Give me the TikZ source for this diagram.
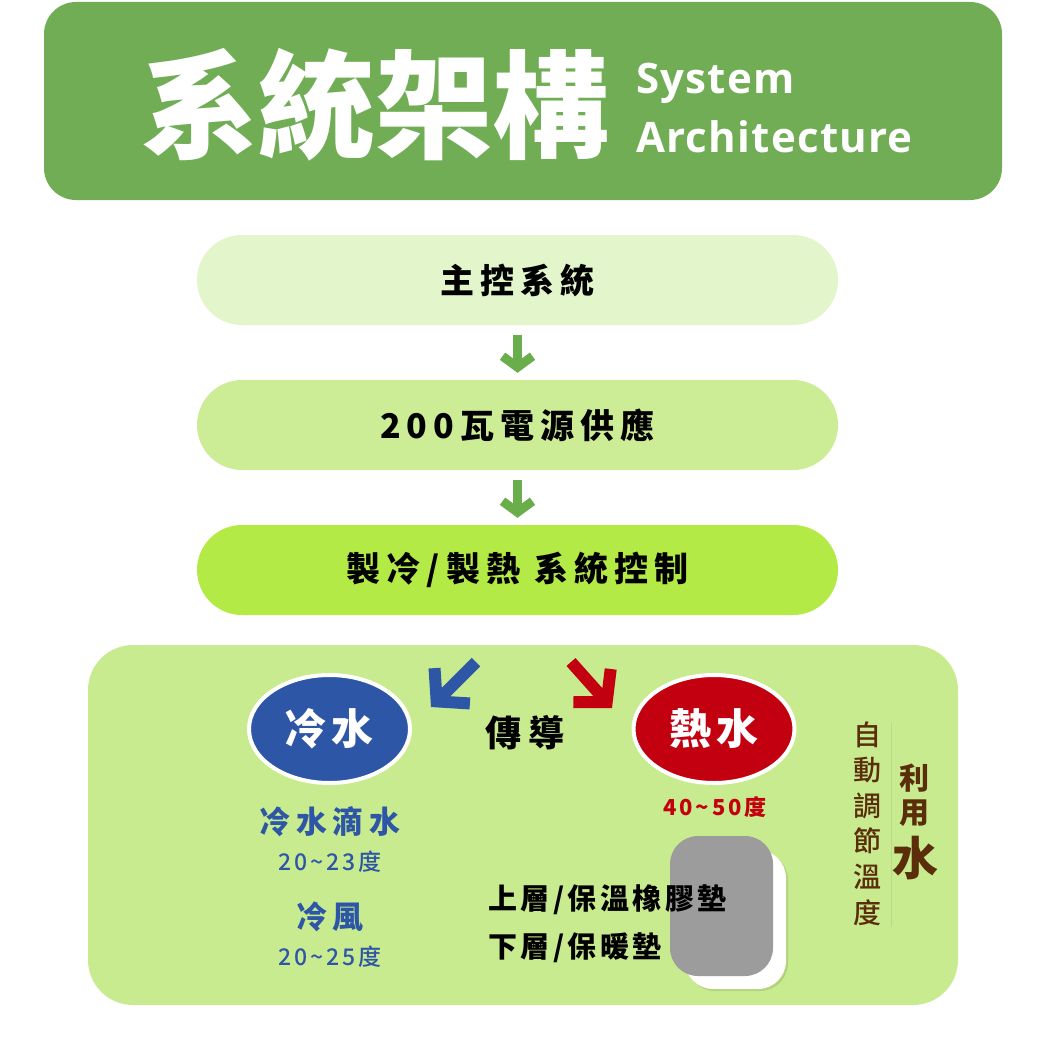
\documentclass[tikz,border=0pt]{standalone}
\usepackage{fontspec}
\setmainfont{Noto Sans CJK TC}
\newfontfamily\cjk{Noto Sans CJK TC}
\newfontfamily\cjkmed{Noto Sans CJK TC Medium}
\newfontfamily\cjkmedls[LetterSpace=12]{Noto Sans CJK TC Medium}
\newfontfamily\cjkblack{Noto Sans CJK TC Black}
\newfontfamily\cjkwide[LetterSpace=18]{Noto Sans CJK TC}
\newfontfamily\cjkmid[LetterSpace=12]{Noto Sans CJK TC}
\newfontfamily\latinf[LetterSpace=3]{Open Sans}
\usetikzlibrary{arrows.meta,calc,shapes.geometric}
\definecolor{titlegreen}{HTML}{70AD54}
\definecolor{boxA}{HTML}{E3F5CA}
\definecolor{boxB}{HTML}{CDEC96}
\definecolor{boxC}{HTML}{B4EA46}
\definecolor{panel}{HTML}{C9EB8F}
\definecolor{agreen}{HTML}{6AAE4C}
\definecolor{coldblue}{HTML}{2D56A6}
\definecolor{hotred}{HTML}{C3000F}
\definecolor{padgray}{HTML}{9C9C9C}
\definecolor{brownish}{HTML}{5A2D0B}
\definecolor{shadowgreen}{HTML}{B2D37A}
\definecolor{sepline}{HTML}{B9D987}
\begin{document}
\begin{tikzpicture}[x=1pt,y=-1pt,
  stepbox/.style={rounded corners=45pt, minimum width=641pt, minimum height=90pt,
    inner sep=0pt, font=\cjkwide\bfseries\fontsize{34}{40}\selectfont, text=black},
  garrow/.style={line width=9pt, draw=agreen, -{Straight Barb[length=11pt,width=30pt]}},
  darrow/.style={line width=12pt, -{Straight Barb[length=22pt,width=50pt]}},
  tempbox/.style={ellipse, minimum width=161pt, minimum height=108pt, draw=white,
    line width=4pt, text=white, inner sep=0pt,
    font=\cjkmid\bfseries\fontsize{42}{48}\selectfont},
  brownv/.style={text=brownish, inner sep=0pt, align=center}
]
\path[use as bounding box, fill=white] (0,0) rectangle (1046,1046);

% title
\fill[titlegreen, rounded corners=32pt] (44,2) rectangle (1002,200);
\node[text=white, inner sep=0pt, font=\cjkblack\fontsize{117}{120}\selectfont] (title) at (375,105) {系統架構};
\node[text=white, inner sep=0pt, anchor=base west, font=\latinf\bfseries\fontsize{42}{46}\selectfont] (sys) at (636,94) {System};
\node[text=white, inner sep=0pt, anchor=base west, font=\latinf\bfseries\fontsize{42}{46}\selectfont] (arch) at (636,152) {Architecture};

% flow boxes
\node[stepbox, fill=boxA] (b1) at (517.5,280) {主控系統};
\node[stepbox, fill=boxB] (b2) at (517.5,425) {200瓦電源供應};
\node[stepbox, fill=boxC] (b3) at (517.5,570) {製冷/製熱 系統控制};
\draw[garrow] ($(b1.south)+(0,10)$) -- ($(b2.north)+(0,-7)$);
\draw[garrow] ($(b2.south)+(0,10)$) -- ($(b3.north)+(0,-7)$);

% panel
\fill[panel, rounded corners=45pt] (88,645) rectangle (958,1005);

\node[tempbox, fill=coldblue] (cold) at (329.5,729) {冷水};
\node[tempbox, fill=hotred] (hot) at (714,729) {熱水};

\coordinate (bt) at (476,662);
\coordinate (bh) at (431,707);
\coordinate (rt) at (571,662);
\coordinate (rh) at (612,708);
\draw[darrow, draw=coldblue] (bt) -- (bh);
\draw[darrow, draw=hotred] (rt) -- (rh);
\node[inner sep=0pt, font=\cjkwide\bfseries\fontsize{36}{40}\selectfont] (cond) at (525,733) {傳導};

\node[text=coldblue, inner sep=0pt, font=\cjkwide\bfseries\fontsize{31}{36}\selectfont] (cd) at (330,822) {冷水滴水};
\node[text=coldblue, inner sep=0pt, font=\cjkmedls\fontsize{23}{26}\selectfont] (cdt) at (330,862) {20\textasciitilde23度};
\node[text=coldblue, inner sep=0pt, font=\cjkwide\bfseries\fontsize{31}{36}\selectfont] (cw) at (330,917) {冷風};
\node[text=coldblue, inner sep=0pt, font=\cjkmedls\fontsize{23}{26}\selectfont] (cwt) at (330,957) {20\textasciitilde25度};
\node[text=hotred, inner sep=0pt, font=\cjkmid\bfseries\fontsize{22}{26}\selectfont] (ht) at (715,807) {40\textasciitilde50度};

% pads
\fill[shadowgreen, rounded corners=28pt] (687,852) rectangle (788,991);
\fill[white, rounded corners=28pt] (685,850) rectangle (786,989);
\fill[padgray, rounded corners=28pt] (670,836) rectangle (773,976);
\node[anchor=west, inner sep=0pt, font=\cjkmid\bfseries\fontsize{29}{34}\selectfont] (up) at (488,900) {上層/保溫橡膠墊};
\node[anchor=west, inner sep=0pt, font=\cjkmid\bfseries\fontsize{29}{34}\selectfont] (down) at (488,948) {下層/保暖墊};

% right side
\node[brownv, font=\cjkmed\fontsize{28}{35.6}\selectfont] (auto) at (867,823.5) {自\\動\\調\\節\\溫\\度};
\draw[sepline, line width=1pt] (891,723) -- (891,927);
\node[brownv, font=\cjk\bfseries\fontsize{30}{34}\selectfont] (li) at (914,778) {利};
\node[brownv, font=\cjk\bfseries\fontsize{30}{34}\selectfont] (yong) at (914,813) {用};
\node[brownv, font=\cjk\bfseries\fontsize{46}{50}\selectfont] (shui) at (915,858) {水};
\end{tikzpicture}
\end{document}
